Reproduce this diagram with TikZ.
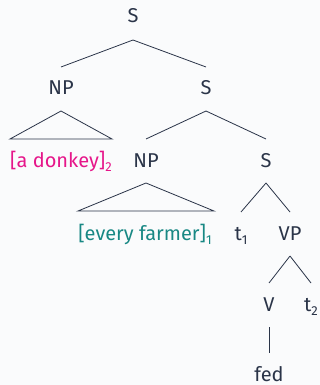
\documentclass[tikz,border=0pt]{standalone}
\usepackage{fontspec}
\setmainfont{Fira Sans}
\definecolor{ink}{RGB}{42,52,72}
\definecolor{bg}{RGB}{250,251,252}
\definecolor{pinkq}{RGB}{230,22,138}
\definecolor{tealq}{RGB}{24,136,132}
\newcommand{\idx}[1]{\raisebox{-4pt}{\fontsize{13}{14}\selectfont #1}}
\tikzset{
  lab/.style={inner sep=0pt, text=ink, font=\fontsize{20}{24}\selectfont, anchor=base},
  edge/.style={draw=ink, line width=0.8pt},
}
% branch from below a parent label to above a child label
\newcommand{\dn}[2]{([yshift=-16pt]#1.base) -- ([yshift=28pt]#2.base)}
\begin{document}
\begin{tikzpicture}[x=1pt,y=-1pt]
  \fill[bg] (0,0) rectangle (320,385);
  \useasboundingbox (0,0) rectangle (320,385);
  % labels, placed by their baselines
  \node[lab] (s0)  at (133,23)  {S};
  \node[lab] (np1) at (61,95)   {NP};
  \node[lab] (s1)  at (206,95)  {S};
  \node[lab, text=pinkq] (don) at (61,167) {[a donkey]\idx{2}};
  \node[lab] (np2) at (146,167) {NP};
  \node[lab] (s2)  at (266,167) {S};
  \node[lab, text=tealq] (far) at (145,240) {[every farmer]\idx{1}};
  \node[lab] (t1)  at (241,240) {t\idx{1}};
  \node[lab] (vp)  at (290,240) {VP};
  \node[lab] (v)   at (269,311) {V};
  \node[lab] (t2)  at (311,311) {t\idx{2}};
  \node[lab] (fed) at (269,381) {fed};
  % branches
  \draw[edge] ([yshift=-17pt]s0.base) -- ([yshift=28pt]np1.base);
  \draw[edge] ([yshift=-17pt]s0.base) -- ([yshift=28pt]s1.base);
  \draw[edge] \dn{s1}{np2};
  \draw[edge] \dn{s1}{s2};
  \draw[edge] \dn{s2}{t1};
  \draw[edge] \dn{s2}{vp};
  \draw[edge] \dn{vp}{v};
  \draw[edge] \dn{vp}{t2};
  \draw[edge] \dn{v}{fed};
  % roof triangles over phrasal constituents
  \draw[edge] ([yshift=-16pt]np1.base) -- ([xshift=-51pt,yshift=28pt]don.base)
              -- ([xshift=51pt,yshift=28pt]don.base) -- cycle;
  \draw[edge] ([yshift=-16pt]np2.base) -- ([xshift=-67pt,yshift=29pt]far.base)
              -- ([xshift=69pt,yshift=29pt]far.base) -- cycle;
\end{tikzpicture}
\end{document}
